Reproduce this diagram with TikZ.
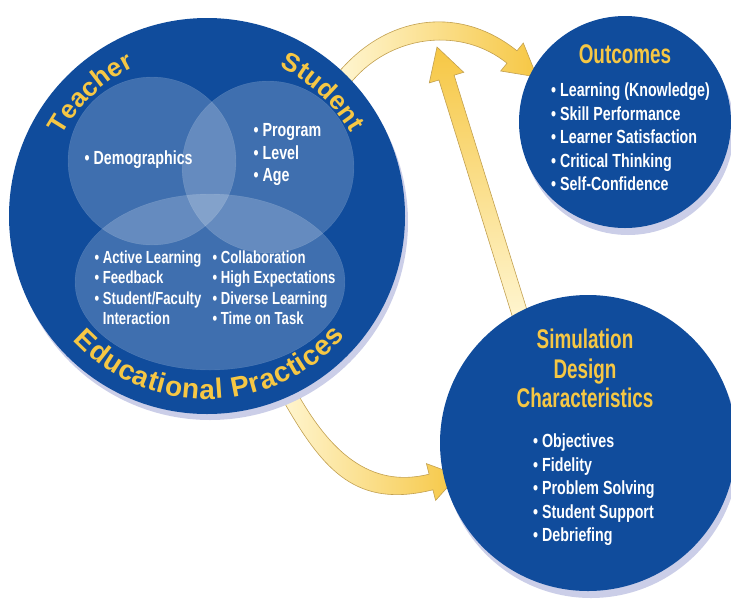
\documentclass[tikz,border=0pt]{standalone}
\usepackage{fontspec}
\setmainfont{Liberation Sans}
\newfontfamily\itemfont[FakeStretch=0.75]{Liberation Sans}
\newfontfamily\headfont[FakeStretch=0.7]{Liberation Sans}
\newfontfamily\arcfont{Liberation Sans}
\usepackage{tikz}
\usetikzlibrary{decorations.text}

\definecolor{sdblue}{HTML}{104C9C}
\definecolor{haze}{HTML}{CBCEE8}
\definecolor{ygold}{HTML}{F6C744}
\definecolor{ypale}{HTML}{FFF6D2}
\definecolor{yedge}{HTML}{C2A050}

\begin{document}
\begin{tikzpicture}[x=1pt, y=-1pt,
    disc/.style={circle, fill=sdblue, inner sep=0pt},
    halo/.style={circle, fill=haze, inner sep=0pt},
    venn/.style={fill=white, fill opacity=0.2, draw=white, draw opacity=0.12},
    heading/.style={text=ygold, font=\headfont\bfseries\fontsize{27}{29.5}\selectfont, align=center, inner sep=0pt},
    itemlist/.style={text=white, font=\itemfont\bfseries\fontsize{19}{23.4}\selectfont, align=left, inner sep=0pt, anchor=north west},
    vennlist/.style={text=white, font=\itemfont\bfseries\fontsize{17.5}{20.5}\selectfont, align=left, inner sep=0pt, anchor=north west},
    flow/.style={draw=yedge, line width=0.6pt},
    arcword/.style={decorate, decoration={text along path, text align={fit to path}, text color=ygold}}
]
    \useasboundingbox (0,0) rectangle (731,598);

    % yellow arrows, behind the discs
    \path[flow, left color=ypale, right color=ygold]
        (337.4,73.3) -- (344.2,66) .. controls (392.5,14.2) and (461.8,6.5) .. (517,50.8)
        -- (523.3,43) -- (537,77) -- (500.7,71) -- (507,63.2)
        .. controls (461.8,26.9) and (395.4,34.6) .. (355.8,77) -- (349,84.3) -- cycle;
    \path[flow, top color=ygold, bottom color=ypale]
        (529.2,317.1) -- (454.1,75.2) -- (463.7,72.3) -- (437,47)
        -- (429.3,82.9) -- (438.9,80) -- (514,321.9) -- cycle;
    \path[flow, left color=ypale, right color=ygold]
        (279.1,393.6) -- (285.1,404) .. controls (324.1,471.5) and (357.2,508.5) .. (432.9,489.8)
        -- (435.6,500.4) -- (458.2,475.3) -- (426.4,463.6) -- (429.1,474.2)
        .. controls (369,489.1) and (329.9,449.7) .. (298.9,396) -- (292.9,385.6) -- cycle;

    % discs
    \node[halo, minimum size=396pt] at (210,222) {};
    \node[disc, minimum size=396pt] (big) at (207,216) {};
    \node[halo, minimum size=212pt] at (628,129) {};
    \node[disc, minimum size=212pt] (outc) at (625,122) {};
    \node[halo, minimum size=296pt] at (591,450) {};
    \node[disc, minimum size=296pt] (sim) at (588,443) {};

    % venn
    \path[venn] (152,161) circle[radius=84];
    \path[venn] (268,167) circle[radius=86];
    \path[venn] (210,282) ellipse[x radius=135, y radius=88];

    % words round the big disc
    \path[arcword, decoration={text={|\arcfont\bfseries\fontsize{26}{30}\selectfont|Teacher}}]
        (big) ++(209:166) arc[start angle=209, end angle=244, radius=166];
    \path[arcword, decoration={text={|\arcfont\bfseries\fontsize{26}{30}\selectfont|Student}}]
        (big) ++(296:166) arc[start angle=296, end angle=330, radius=166];
    \path[arcword, decoration={text={|\arcfont\bfseries\fontsize{28}{30}\selectfont|Educational Practices}}]
        (big) ++(137:183) arc[start angle=137, end angle=41, radius=183];

    \node[vennlist, font=\itemfont\bfseries\fontsize{19}{22.5}\selectfont, anchor=base west] (demo) at (84.5,164) {\textbullet\ Demographics};
    \node[vennlist, font=\itemfont\bfseries\fontsize{19}{22.5}\selectfont] (prog) at (253.5,123.5) {\textbullet\ Program\\\textbullet\ Level\\\textbullet\ Age};
    \node[vennlist] (pracA) at (94.5,250.5) {\textbullet\ Active Learning\\\textbullet\ Feedback\\\textbullet\ Student/Faculty\\\phantom{\textbullet\ }Interaction};
    \node[vennlist] (pracB) at (212.5,250.5) {\textbullet\ Collaboration\\\textbullet\ High Expectations\\\textbullet\ Diverse Learning\\\textbullet\ Time on Task};

    % outcomes
    \node[heading, anchor=base] (outT) at (625,63) {Outcomes};
    \node[itemlist] (outL) at (551,83) {\textbullet\ Learning (Knowledge)\\\textbullet\ Skill Performance\\\textbullet\ Learner Satisfaction\\\textbullet\ Critical Thinking\\\textbullet\ Self-Confidence};

    % simulation design
    \node[heading, anchor=north] (simT) at (585,329) {Simulation\\Design\\Characteristics};
    \node[itemlist] (simL) at (533,434) {\textbullet\ Objectives\\\textbullet\ Fidelity\\\textbullet\ Problem Solving\\\textbullet\ Student Support\\\textbullet\ Debriefing};
\end{tikzpicture}
\end{document}
